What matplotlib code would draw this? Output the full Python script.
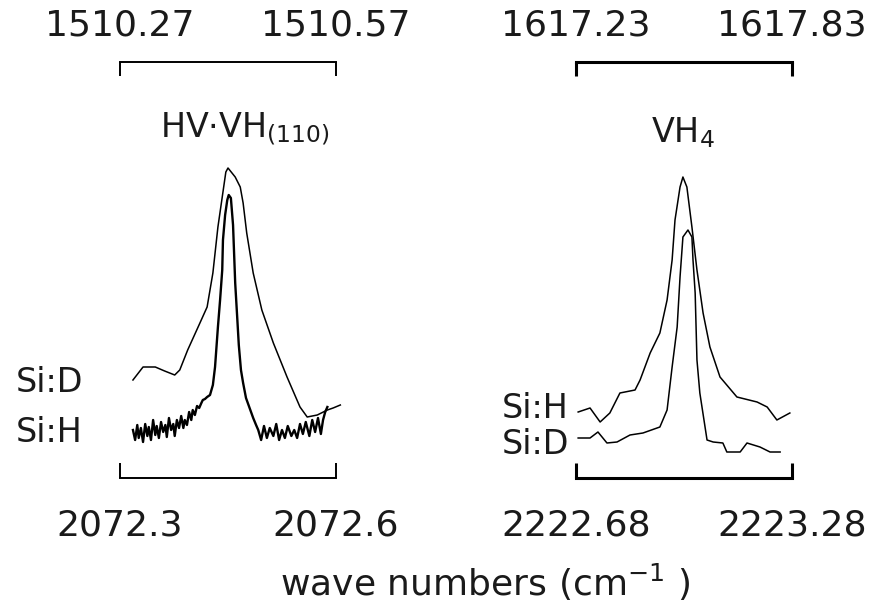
import matplotlib
matplotlib.use("Agg")
import matplotlib.pyplot as plt

plt.rcParams['font.family'] = ['DejaVu Sans']
plt.rcParams['mathtext.fontset'] = 'dejavusans'

# ---- left panel: HV.VH(110) ----
left_top_ticks = [1510.27, 1510.57]
left_bot_ticks = [2072.3, 2072.6]
left_top_labels = ['1510.27', '1510.57']
left_bot_labels = ['2072.3', '2072.6']

# Si:D plotted against the top (1510) scale
sid_left_wn = [1510.288, 1510.302, 1510.319, 1510.332, 1510.346, 1510.353, 1510.364,
               1510.381, 1510.391, 1510.399, 1510.406, 1510.412, 1510.417, 1510.420,
               1510.430, 1510.437, 1510.441, 1510.446, 1510.455, 1510.467, 1510.483,
               1510.502, 1510.520, 1510.530, 1510.544, 1510.558, 1510.566, 1510.576]
sid_left_int = [0.98, 1.11, 1.11, 1.07, 1.03, 1.08, 1.28,
                1.55, 1.71, 2.05, 2.51, 2.81, 3.06, 3.10,
                3.01, 2.91, 2.75, 2.45, 2.05, 1.68, 1.35,
                1.01, 0.71, 0.61, 0.63, 0.68, 0.70, 0.73]

# Si:H plotted against the bottom (2072) scale
sih_left_wn = [2072.318, 2072.321, 2072.324, 2072.326, 2072.329, 2072.332, 2072.335,
               2072.338, 2072.340, 2072.343, 2072.346, 2072.349, 2072.351, 2072.354,
               2072.357, 2072.360, 2072.363, 2072.365, 2072.368, 2072.371, 2072.374,
               2072.376, 2072.379, 2072.382, 2072.385, 2072.388, 2072.390, 2072.393,
               2072.396, 2072.399, 2072.401, 2072.404, 2072.407, 2072.410, 2072.413,
               2072.415, 2072.418, 2072.421, 2072.425,
               2072.429, 2072.432, 2072.436, 2072.439, 2072.442, 2072.443, 2072.446,
               2072.449, 2072.451, 2072.454, 2072.457, 2072.460, 2072.463, 2072.465,
               2072.468, 2072.471, 2072.475, 2072.481, 2072.485, 2072.489,
               2072.492, 2072.496, 2072.500, 2072.504, 2072.508, 2072.513, 2072.517,
               2072.521, 2072.525, 2072.529, 2072.533, 2072.538, 2072.542, 2072.546,
               2072.550, 2072.554, 2072.558, 2072.563, 2072.567, 2072.571, 2072.575,
               2072.579, 2072.582, 2072.585, 2072.588]
sih_left_int = [0.48, 0.38, 0.53, 0.40, 0.50, 0.36, 0.54,
                0.42, 0.51, 0.38, 0.58, 0.43, 0.52, 0.40,
                0.56, 0.46, 0.53, 0.41, 0.60, 0.48, 0.54,
                0.42, 0.58, 0.50, 0.62, 0.50, 0.58, 0.53,
                0.66, 0.58, 0.68, 0.63, 0.72, 0.70, 0.75,
                0.78, 0.79, 0.81, 0.83,
                0.93, 1.11, 1.51, 1.78, 2.08, 2.38, 2.63,
                2.78, 2.83, 2.80, 2.53, 1.95, 1.58, 1.33,
                1.08, 0.95, 0.80, 0.68, 0.60, 0.53,
                0.48, 0.38, 0.52, 0.40, 0.50, 0.42, 0.54,
                0.38, 0.48, 0.40, 0.52, 0.42, 0.48, 0.40,
                0.54, 0.44, 0.56, 0.42, 0.58, 0.46, 0.60,
                0.44, 0.58, 0.66, 0.71]

# ---- right panel: VH4 ----
right_top_ticks = [1617.23, 1617.83]
right_bot_ticks = [2222.68, 2223.28]
right_top_labels = ['1617.23', '1617.83']
right_bot_labels = ['2222.68', '2223.28']

# Si:H against the bottom (2223) scale
sih_right_wn = [2222.686, 2222.719, 2222.747, 2222.774, 2222.802, 2222.844, 2222.858,
                2222.886, 2222.913, 2222.933, 2222.947, 2222.955, 2222.969, 2222.977,
                2222.988, 2223.002, 2223.016, 2223.033, 2223.052, 2223.080, 2223.127,
                2223.183, 2223.211, 2223.238, 2223.274]
sih_right_int = [0.66, 0.70, 0.56, 0.65, 0.85, 0.88, 0.98,
                 1.25, 1.45, 1.78, 2.18, 2.58, 2.91, 3.01,
                 2.91, 2.51, 2.08, 1.65, 1.31, 1.01, 0.81,
                 0.76, 0.71, 0.58, 0.65]

# Si:D against the top (1617) scale
sid_right_wn = [1617.236, 1617.269, 1617.291, 1617.316, 1617.344, 1617.380, 1617.416,
                1617.463, 1617.483, 1617.497, 1617.511, 1617.519, 1617.527, 1617.541,
                1617.552, 1617.555, 1617.561, 1617.566, 1617.574, 1617.594, 1617.611,
                1617.638, 1617.649, 1617.686, 1617.705, 1617.741, 1617.769, 1617.797]
sid_right_int = [0.40, 0.40, 0.46, 0.35, 0.36, 0.43, 0.45,
                 0.51, 0.68, 1.11, 1.51, 2.01, 2.41, 2.48,
                 2.41, 2.18, 1.85, 1.18, 0.85, 0.38, 0.36,
                 0.35, 0.26, 0.26, 0.35, 0.31, 0.26, 0.26]

W, H = 890, 604
TXT = '#1a1a1a'
fig = plt.figure(figsize=(W / 100, H / 100), dpi=100)


def fx(px):
    return px / W


def fy(py):
    return 1 - py / H


def panel(x0, x1, top_ticks, top_labels, bot_ticks, bot_labels,
          top_wn, top_int, bot_wn, bot_int, lw, bot_lw):
    ax = fig.add_axes([fx(x0), fy(478), fx(x1) - fx(x0), fy(62) - fy(478)])
    ax2 = ax.twiny()
    ax.set_ylim(0, 4.16)
    ax.set_xlim(bot_ticks[0], bot_ticks[1])
    ax2.set_xlim(top_ticks[0], top_ticks[1])
    ax.plot(bot_wn, bot_int, color='black', lw=bot_lw, clip_on=False)
    ax2.plot(top_wn, top_int, color='black', lw=1.1, clip_on=False)
    ax.set_xticks(bot_ticks)
    ax.set_xticklabels(bot_labels)
    ax2.set_xticks(top_ticks)
    ax2.set_xticklabels(top_labels)
    ax.set_yticks([])
    for s in ['left', 'right', 'top']:
        ax.spines[s].set_visible(False)
    for s in ['left', 'right', 'bottom']:
        ax2.spines[s].set_visible(False)
    ax.spines['bottom'].set_linewidth(lw)
    ax2.spines['top'].set_linewidth(lw)
    ax.tick_params(axis='x', direction='in', length=11, width=lw, pad=22,
                   labelsize=26, labelcolor=TXT)
    ax2.tick_params(axis='x', direction='in', length=10, width=lw, pad=14,
                    labelsize=26, labelcolor=TXT)
    ax.patch.set_alpha(0)
    ax2.patch.set_alpha(0)
    return ax


panel(120, 336, left_top_ticks, left_top_labels, left_bot_ticks,
      left_bot_labels, sid_left_wn, sid_left_int, sih_left_wn, sih_left_int, 1.4, 1.7)
panel(576, 792, right_top_ticks, right_top_labels, right_bot_ticks,
      right_bot_labels, sid_right_wn, sid_right_int, sih_right_wn, sih_right_int, 2.2, 1.1)

fig.text(fx(245), fy(137), r'HV$\cdot$VH$_{(110)}$', ha='center', va='baseline',
         fontsize=24, color=TXT)
fig.text(fx(683), fy(142), r'VH$_4$', ha='center', va='baseline', fontsize=24,
         color=TXT)

fig.text(fx(16), fy(382), 'Si:D', ha='left', va='center', fontsize=24, color=TXT)
fig.text(fx(16), fy(432), 'Si:H', ha='left', va='center', fontsize=24, color=TXT)
fig.text(fx(569), fy(408), 'Si:H', ha='right', va='center', fontsize=24, color=TXT)
fig.text(fx(569), fy(445), 'Si:D', ha='right', va='center', fontsize=24, color=TXT)

fig.text(fx(485), fy(582), r'wave numbers (cm$^{-1}$ )', ha='center', va='center',
         fontsize=26, color=TXT)

fig.savefig('out.png', dpi=100)
